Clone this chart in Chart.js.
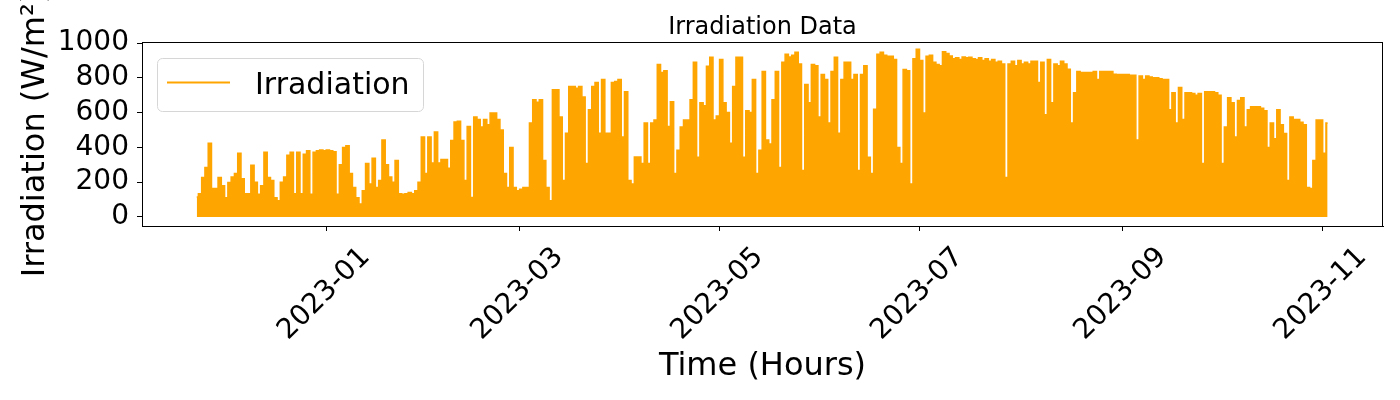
<!DOCTYPE html>
<html>
<head>
<meta charset="utf-8">
<title>Irradiation Data</title>
<script src="https://cdn.jsdelivr.net/npm/chart.js@4.4.0/dist/chart.umd.min.js"></script>
<style>
  body { margin: 0; background: #fff; }
  #chart { display: block; }
</style>
</head>
<body>
<canvas id="chart" width="1400" height="400"></canvas>
<script>
// x values are days counted from 2023-01-01; first day is 2022-11-22
const firstDay = -40;

// daily peak irradiation (W/m²), one value per day
const peaksNov22 = [115, 134, 227, 285, 424, 163, 163, 227, 180];
const peaksDec22 = [110, 198, 230, 250, 366, 220, 134, 134, 297, 200, 130, 180, 372, 227, 210, 110,
  93, 200, 230, 355, 372, 134, 372, 134, 360, 380, 130, 372, 380, 385, 380];
const peaksJan23 = [385, 380, 375, 130, 300, 400, 410, 250, 170, 110, 75, 150, 308, 190, 337, 170,
  210, 442, 300, 230, 200, 325, 134, 130, 134, 140, 134, 150, 200, 460, 250];
const peaksFeb23 = [460, 310, 488, 310, 330, 330, 280, 440, 546, 550, 440, 210, 520, 112, 575, 560,
  517, 560, 530, 598, 598, 560, 500, 250, 170, 400, 170, 150];
const peaksMar23 = [160, 170, 170, 540, 674, 660, 674, 325, 170, 93, 732, 732, 575, 210, 482, 750,
  750, 740, 750, 690, 308, 616, 750, 773, 482, 790, 482, 482, 773, 779, 790];
const peaksApr23 = [460, 720, 210, 190, 345, 345, 308, 540, 308, 540, 558, 877, 830, 840, 520, 663,
  250, 383, 517, 558, 558, 674, 889, 343, 656, 640, 866, 918, 558, 580];
const peaksMay23 = [906, 656, 600, 424, 750, 918, 918, 343, 610, 600, 790, 250, 383, 837, 442, 420,
  674, 837, 285, 889, 935, 920, 930, 947, 880, 267, 761, 656, 877, 870, 575];
const peaksJun23 = [819, 790, 540, 837, 918, 482, 790, 889, 889, 790, 819, 267, 819, 870, 343, 250,
  620, 935, 947, 930, 924, 924, 906, 400, 308, 848, 840, 190, 910, 965];
const peaksJul23 = [900, 598, 924, 930, 890, 877, 870, 950, 940, 925, 910, 915, 905, 920, 915, 918,
  910, 905, 915, 900, 910, 895, 905, 890, 895, 880, 227, 880, 895, 870, 900];
const peaksAug23 = [880, 890, 880, 895, 895, 773, 890, 587, 906, 656, 880, 870, 895, 880, 850, 540,
  714, 837, 830, 830, 830, 830, 837, 790, 837, 837, 837, 837, 820, 819, 819];
const peaksSep23 = [819, 819, 815, 815, 442, 810, 790, 810, 805, 800, 800, 795, 790, 790, 616, 714,
  540, 744, 560, 714, 714, 710, 700, 710, 308, 720, 720, 720, 714, 700];
const peaksOct23 = [308, 517, 686, 656, 460, 670, 686, 517, 616, 633, 633, 633, 625, 610, 400, 540,
  450, 616, 530, 480, 210, 575, 560, 560, 545, 530, 170, 163, 325, 558, 558];
const peaksNov23 = [366, 540];

const xTickDays = [0, 59, 120, 181, 243, 304];
const xTickLabels = ['2023-01', '2023-03', '2023-05', '2023-07', '2023-09', '2023-11'];
const yTicks = [0, 200, 400, 600, 800, 1000];

const peaks = [].concat(peaksNov22, peaksDec22, peaksJan23, peaksFeb23, peaksMar23, peaksApr23,
  peaksMay23, peaksJun23, peaksJul23, peaksAug23, peaksSep23, peaksOct23, peaksNov23);
const points = peaks.map((v, i) => ({ x: firstDay + i + 0.5, y: v }));

const FONT = "'DejaVu Sans', sans-serif";
const ORANGE = '#FFA500';

// frame, title, legend box and rotated date labels drawn the matplotlib way
const decorations = {
  id: 'decorations',
  afterDatasetsDraw(chart) {
    const { ctx, chartArea: a } = chart;
    ctx.save();
    ctx.strokeStyle = '#000';
    ctx.lineWidth = 1;
    ctx.strokeRect(a.left + 0.5, a.top + 0.5, a.right - a.left - 1, a.bottom - a.top);
    ctx.restore();
  },
  afterDraw(chart) {
    const { ctx, chartArea: a } = chart;
    const xs = chart.scales.x;
    ctx.save();
    ctx.fillStyle = '#000';

    ctx.font = '24px ' + FONT;
    ctx.textAlign = 'center';
    ctx.textBaseline = 'alphabetic';
    ctx.fillText('Irradiation Data', (a.left + a.right) / 2, 34);

    ctx.font = '28px ' + FONT;
    xTickDays.forEach((d, i) => {
      const px = xs.getPixelForValue(d);
      ctx.save();
      ctx.translate(px - 4, 292);
      ctx.rotate(-Math.PI / 4);
      ctx.fillText(xTickLabels[i], 0, 28 * 0.365);
      ctx.restore();
    });

    // legend
    ctx.beginPath();
    ctx.roundRect(157.5, 58.5, 266, 53, 5);
    ctx.fillStyle = 'rgba(255,255,255,0.8)';
    ctx.fill();
    ctx.strokeStyle = '#d6d6d6';
    ctx.lineWidth = 1;
    ctx.stroke();
    ctx.beginPath();
    ctx.moveTo(167, 82.5);
    ctx.lineTo(230, 82.5);
    ctx.strokeStyle = ORANGE;
    ctx.lineWidth = 2;
    ctx.stroke();
    ctx.fillStyle = '#000';
    ctx.font = '30px ' + FONT;
    ctx.textAlign = 'left';
    ctx.fillText('Irradiation', 255, 94);
    ctx.restore();
  }
};

new Chart(document.getElementById('chart'), {
  type: 'line',
  data: {
    datasets: [{
      label: 'Irradiation',
      data: points,
      borderColor: ORANGE,
      backgroundColor: ORANGE,
      borderWidth: 1.5,
      pointRadius: 0,
      stepped: 'middle',
      fill: 'origin',
      tension: 0
    }]
  },
  options: {
    responsive: false,
    animation: false,
    layout: { padding: { top: 42, right: 17, left: 0, bottom: 0 } },
    plugins: {
      legend: { display: false },
      title: { display: false },
      tooltip: { enabled: false }
    },
    scales: {
      x: {
        type: 'linear',
        min: -56.2,
        max: 322.4,
        afterFit(s) { s.height = 174; },
        afterBuildTicks(s) { s.ticks = xTickDays.map(v => ({ value: v })); },
        ticks: { display: false },
        grid: { display: true, drawOnChartArea: false, drawTicks: true, tickLength: 5, color: '#000' },
        border: { display: true, color: '#000' },
        title: {
          display: true,
          text: 'Time (Hours)',
          color: '#000',
          font: { size: 32, family: FONT },
          padding: { top: 0, bottom: 14 }
        }
      },
      y: {
        min: -52,
        max: 1006,
        afterFit(s) { s.width = 142; },
        afterBuildTicks(s) { s.ticks = yTicks.map(v => ({ value: v })); },
        ticks: {
          autoSkip: false,
          padding: 8,
          color: '#000',
          font: { size: 28, family: FONT },
          callback: v => String(v)
        },
        grid: { display: true, drawOnChartArea: false, drawTicks: true, tickLength: 5, color: '#000' },
        border: { display: true, color: '#000' },
        title: {
          display: true,
          text: 'Irradiation (W/m²)',
          color: '#000',
          font: { size: 32, family: FONT },
          padding: { top: 16, bottom: 0 }
        }
      }
    }
  },
  plugins: [decorations]
});
</script>
</body>
</html>
